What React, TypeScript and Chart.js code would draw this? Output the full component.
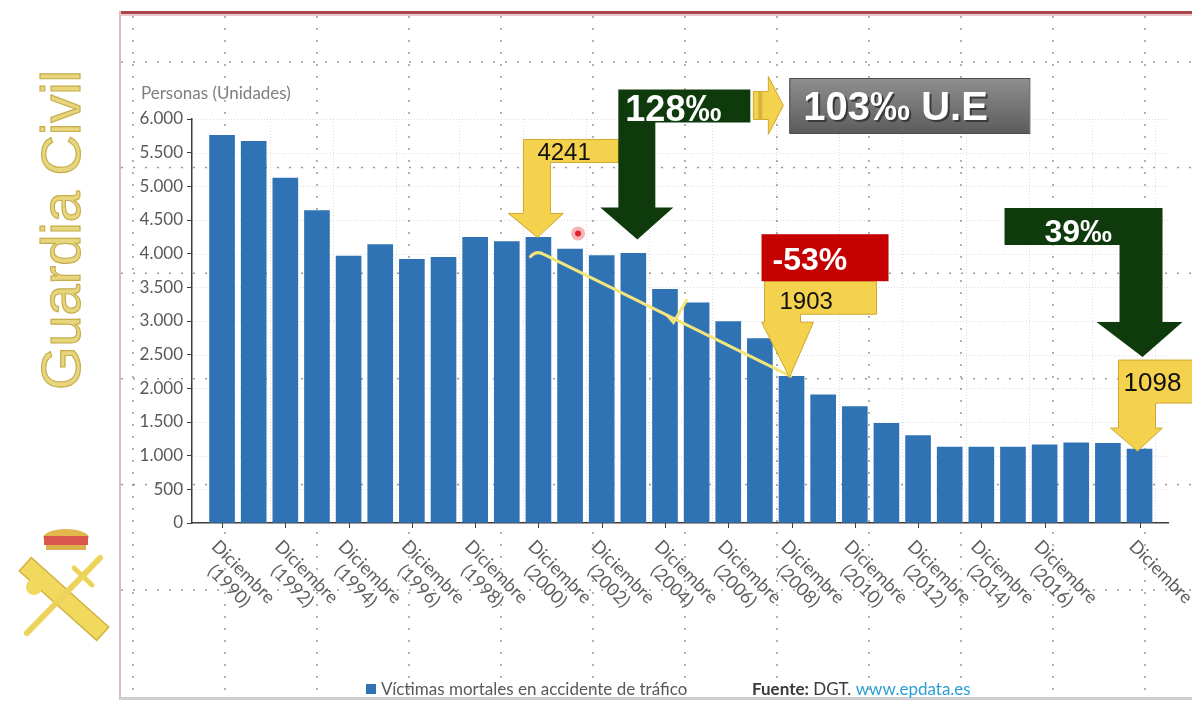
import React, { useEffect, useRef } from 'react';
import { Chart, registerables } from 'chart.js';

Chart.register(...registerables);

// ---------- data ----------
const years = [
  1990, 1991, 1992, 1993, 1994, 1995, 1996, 1997, 1998, 1999,
  2000, 2001, 2002, 2003, 2004, 2005, 2006, 2007, 2008, 2009,
  2010, 2011, 2012, 2013, 2014, 2015, 2016, 2017, 2018, 2019,
];
const victims = [
  5757, 5668, 5122, 4641, 3965, 4134, 3916, 3946, 4243, 4179,
  4241, 4069, 3971, 4005, 3469, 3271, 2993, 2740, 2180, 1903,
  1730, 1480, 1300, 1128, 1128, 1127, 1161, 1191, 1185, 1098,
];
const yTickLabels = ['0', '500', '1.000', '1.500', '2.000', '2.500', '3.000', '3.500', '4.000', '4.500', '5.000', '5.500', '6.000'];
const labelledYears = [1990, 1992, 1994, 1996, 1998, 2000, 2002, 2004, 2006, 2008, 2010, 2012, 2014, 2016];
const lastLabelYear = 2019;
const monthWord = 'Diciembre';
const seriesLabel = 'Víctimas mortales en accidente de tráfico';
const yTitle = 'Personas (Unidades)';
const sourceBold = 'Fuente:';
const sourceName = ' DGT. ';
const sourceUrl = 'www.epdata.es';
const sideTitle = 'Guardia Civil';

// annotations
const peakYear = 2000;
const peakLabel = '4241';
const euroYear = 2003;
const euroLabel = '128‰';
const euLabel = '103‰ U.E';
const dropLabel = '-53%';
const midYear = 2008;
const midLabel = '1903';
const lastYear = 2019;
const lastLabel = '1098';
const lastPctLabel = '39‰';

const BAR = '#2f73b5';
const YEL = '#f5d24e';
const YEL_EDGE = '#cfa92e';
const GREEN = '#0f3a0c';

function poly(ctx: CanvasRenderingContext2D, pts: number[][], fill: string | CanvasGradient, stroke?: string) {
  ctx.beginPath();
  pts.forEach(([x, y], i) => (i ? ctx.lineTo(x, y) : ctx.moveTo(x, y)));
  ctx.closePath();
  ctx.fillStyle = fill;
  ctx.fill();
  if (stroke) {
    ctx.strokeStyle = stroke;
    ctx.lineWidth = 1;
    ctx.stroke();
  }
}

function leftBent(ctx: CanvasRenderingContext2D, tx: number, ty: number, o: any, fill: any, stroke?: string) {
  const { bx0, bx1, by0, by1, sx1, hy, hx0, hx1 } = o;
  poly(ctx, [
    [tx + bx0, ty + by0], [tx + bx1, ty + by0], [tx + bx1, ty + by1], [tx + sx1, ty + by1],
    [tx + sx1, ty + hy], [tx + hx1, ty + hy], [tx, ty], [tx + hx0, ty + hy], [tx + bx0, ty + hy],
  ], fill, stroke);
}
function rightBent(ctx: CanvasRenderingContext2D, tx: number, ty: number, o: any, fill: any, stroke?: string) {
  const { bx0, bx1, by0, by1, sx0, hy, hx0, hx1 } = o;
  poly(ctx, [
    [tx + bx0, ty + by0], [tx + bx1, ty + by0], [tx + bx1, ty + hy], [tx + hx1, ty + hy], [tx, ty],
    [tx + hx0, ty + hy], [tx + sx0, ty + hy], [tx + sx0, ty + by1], [tx + bx0, ty + by1],
  ], fill, stroke);
}

const bgPlugin = {
  id: 'bg',
  beforeDraw(chart: any) {
    const ctx: CanvasRenderingContext2D = chart.ctx;
    const W = chart.width;
    ctx.save();
    ctx.fillStyle = '#ffffff';
    ctx.fillRect(0, 0, W, chart.height);

    // slide dotted grid
    ctx.strokeStyle = 'rgba(70,70,70,0.55)';
    ctx.lineWidth = 1.5;
    ctx.setLineDash([2, 10]);
    for (let x = 133; x < W; x += 92) {
      ctx.beginPath(); ctx.moveTo(x, 16); ctx.lineTo(x, 696); ctx.stroke();
    }
    for (let y = 62; y < 600; y += 105.6) {
      ctx.beginPath(); ctx.moveTo(121, y); ctx.lineTo(W, y); ctx.stroke();
    }
    ctx.setLineDash([]);

    // frame
    ctx.fillStyle = '#a9474d';
    ctx.fillRect(120, 11, W - 120, 3);
    ctx.fillStyle = '#ecc8ca';
    ctx.fillRect(120, 14, W - 120, 2);
    ctx.fillStyle = '#dcbcc0';
    ctx.fillRect(119, 11, 2, 689);
    ctx.fillStyle = '#cfcfcf';
    ctx.fillRect(120, 697, W - 120, 3);

    // side title
    ctx.save();
    ctx.translate(80, 390);
    ctx.rotate(-Math.PI / 2);
    ctx.font = '56px "Liberation Sans"';
    const w = ctx.measureText(sideTitle).width;
    ctx.scale(320 / w, 1);
    ctx.fillStyle = '#e7d67e';
    ctx.strokeStyle = '#c7ae4c';
    ctx.lineWidth = 1.2;
    ctx.textBaseline = 'alphabetic';
    ctx.fillText(sideTitle, 0, 0);
    ctx.strokeText(sideTitle, 0, 0);
    ctx.restore();

    // emblem: crown
    ctx.fillStyle = '#e2b84e';
    ctx.beginPath(); ctx.ellipse(66, 538, 23, 9, 0, Math.PI, 2 * Math.PI); ctx.fill();
    ctx.fillStyle = '#d8564c';
    ctx.fillRect(44, 536, 44, 9);
    ctx.fillStyle = '#d9b24a';
    ctx.fillRect(46, 545, 40, 5);
    // fasces
    ctx.save();
    ctx.translate(64, 599);
    ctx.rotate(Math.PI / 4.3);
    ctx.fillStyle = '#f1d95e';
    ctx.strokeStyle = '#d3b443';
    ctx.fillRect(-52, -9, 104, 18);
    ctx.strokeRect(-52, -9, 104, 18);
    ctx.restore();
    ctx.beginPath(); ctx.arc(34, 587, 8, 0, Math.PI * 2); ctx.fillStyle = '#f1d95e'; ctx.fill();
    // sword
    ctx.strokeStyle = '#eed35a';
    ctx.lineCap = 'round';
    ctx.lineWidth = 6;
    ctx.beginPath(); ctx.moveTo(100, 558); ctx.lineTo(27, 633); ctx.stroke();
    ctx.lineWidth = 5;
    ctx.beginPath(); ctx.moveTo(74, 568); ctx.lineTo(92, 585); ctx.stroke();
    ctx.lineCap = 'butt';
    ctx.restore();
  },
  beforeDatasetsDraw(chart: any) {
    const ctx: CanvasRenderingContext2D = chart.ctx;
    const { left, right, top, bottom } = chart.chartArea;
    const xs = chart.scales.x;
    const ys = chart.scales.y;
    ctx.save();
    ctx.strokeStyle = 'rgba(0,0,0,0.13)';
    ctx.lineWidth = 1;
    ctx.setLineDash([1, 2]);
    for (let i = 1; i < yTickLabels.length; i++) {
      const y = Math.round(ys.getPixelForValue(i * 500)) + 0.5;
      ctx.beginPath(); ctx.moveTo(left, y); ctx.lineTo(right, y); ctx.stroke();
    }
    years.forEach((yr, i) => {
      if (i % 2 === 1) {
        const x = Math.round(xs.getPixelForValue(yr + 0.5)) + 0.5;
        ctx.beginPath(); ctx.moveTo(x, top); ctx.lineTo(x, bottom); ctx.stroke();
      }
    });
    ctx.restore();
  },
};

const annotPlugin = {
  id: 'annot',
  afterDraw(chart: any) {
    const ctx: CanvasRenderingContext2D = chart.ctx;
    const xs = chart.scales.x;
    const ys = chart.scales.y;
    const px = (v: number) => xs.getPixelForValue(v);
    const py = (v: number) => ys.getPixelForValue(v);
    const valOf = (yr: number) => victims[years.indexOf(yr)];
    const bottom = chart.chartArea.bottom;
    ctx.save();

    // y title
    ctx.font = '17px Lato';
    ctx.fillStyle = '#7f7f7f';
    ctx.textBaseline = 'alphabetic';
    ctx.textAlign = 'left';
    ctx.fillText(yTitle, 141, 99);

    // x tick marks and labels
    const drawn = [...labelledYears.map((y) => ({ y, lines: [monthWord, `(${y})`] })), { y: lastLabelYear, lines: [monthWord] }];
    ctx.strokeStyle = '#404040';
    ctx.lineWidth = 1;
    drawn.forEach(({ y }) => {
      const x = Math.round(px(y)) + 0.5;
      ctx.beginPath(); ctx.moveTo(x, bottom); ctx.lineTo(x, bottom + 5); ctx.stroke();
    });
    ctx.font = '18px Lato';
    ctx.fillStyle = '#5f5f5f';
    ctx.textBaseline = 'top';
    drawn.forEach(({ y, lines }) => {
      ctx.save();
      ctx.translate(px(y) - 1, bottom + 14);
      ctx.rotate(Math.PI / 4);
      const w0 = ctx.measureText(lines[0]).width;
      ctx.fillText(lines[0], 0, 0);
      if (lines[1]) {
        const w1 = ctx.measureText(lines[1]).width;
        ctx.fillText(lines[1], (w0 - w1) / 2, 20);
      }
      ctx.restore();
    });

    // legend
    ctx.textBaseline = 'alphabetic';
    ctx.fillStyle = BAR;
    ctx.fillRect(366, 684, 10, 10);
    ctx.font = '17px Lato';
    ctx.fillStyle = '#595959';
    ctx.fillText(seriesLabel, 381, 695);
    let sx = 752;
    ctx.font = 'bold 17px Lato';
    ctx.fillStyle = '#3a3a3a';
    ctx.fillText(sourceBold, sx, 695);
    sx += ctx.measureText(sourceBold).width;
    ctx.font = '17px Lato';
    ctx.fillText(sourceName, sx, 695);
    sx += ctx.measureText(sourceName).width;
    ctx.fillStyle = '#2b9fd4';
    ctx.fillText(sourceUrl, sx, 695);

    // trend line
    const t0x = px(peakYear) - 8, t0y = py(valOf(peakYear) - 241) + 3;
    const t1x = px(midYear) - 1, t1y = py(valOf(midYear));
    ctx.strokeStyle = '#f3e47c';
    ctx.lineWidth = 3;
    ctx.lineCap = 'round';
    ctx.beginPath();
    ctx.moveTo(t0x, t0y);
    ctx.quadraticCurveTo(t0x + 6, t0y - 7, t0x + 14, t0y - 2);
    ctx.lineTo(t1x, t1y);
    ctx.stroke();
    const fx = t0x + 0.55 * (t1x - t0x), fy = t0y + 0.55 * (t1y - t0y);
    ctx.beginPath(); ctx.moveTo(fx - 6, fy - 7); ctx.lineTo(fx, fy); ctx.lineTo(fx + 13, fy - 22); ctx.stroke();
    ctx.lineCap = 'butt';

    // 4241 yellow arrow
    const ax = px(peakYear) - 1, ay = py(valOf(peakYear));
    leftBent(ctx, ax, ay, { bx0: -14, bx1: 81, by0: -98, by1: -75, sx1: 13, hy: -24, hx0: -29, hx1: 26 }, YEL, YEL_EDGE);
    ctx.fillStyle = '#111';
    ctx.font = '24px "Liberation Sans"';
    ctx.fillText(peakLabel, ax + 0, ay - 77);

    // 128 green arrow
    const bx = px(euroYear) + 4, by = py(valOf(peakYear)) + 2;
    leftBent(ctx, bx, by, { bx0: -19, bx1: 113, by0: -150, by1: -117, sx1: 18, hy: -32, hx0: -37, hx1: 36 }, GREEN);
    ctx.fillStyle = '#ffffff';
    ctx.font = 'bold 36px "Liberation Sans"';
    ctx.fillText(euroLabel, bx - 12, by - 118);

    // small yellow arrow to the right
    const cx = bx + 116, cy = by - 134;
    poly(ctx, [[cx, cy - 14], [cx + 15, cy - 14], [cx + 15, cy - 29], [cx + 30, cy], [cx + 15, cy + 29], [cx + 15, cy + 14], [cx, cy + 14]], YEL, YEL_EDGE);
    ctx.fillStyle = '#d9b23a';
    ctx.fillRect(cx + 5, cy - 14, 4, 28);

    // gray EU box
    const g = ctx.createLinearGradient(0, 78, 0, 133);
    g.addColorStop(0, '#8f8f8f');
    g.addColorStop(1, '#5c5c5c');
    ctx.fillStyle = g;
    ctx.fillRect(cx + 36, 78, 240, 55);
    ctx.strokeStyle = '#4d4d4d';
    ctx.lineWidth = 1;
    ctx.strokeRect(cx + 36.5, 78.5, 240, 55);
    ctx.font = 'bold 40px "Liberation Sans"';
    ctx.fillStyle = '#3a3a3a';
    ctx.fillText(euLabel, cx + 52, 122);
    ctx.fillStyle = '#ffffff';
    ctx.fillText(euLabel, cx + 50, 120);

    // 1903 yellow arrow
    const mx = px(midYear) - 2, my = py(valOf(midYear)) + 1;
    leftBent(ctx, mx, my, { bx0: -25, bx1: 87, by0: -96, by1: -63, sx1: 11, hy: -55, hx0: -28, hx1: 24 }, YEL, YEL_EDGE);
    ctx.fillStyle = '#111';
    ctx.font = '24px "Liberation Sans"';
    ctx.fillText(midLabel, mx - 10, my - 68);

    // red -53% box
    ctx.fillStyle = '#c40000';
    ctx.fillRect(mx - 28, my - 143, 127, 47);
    ctx.fillStyle = '#ffffff';
    ctx.font = 'bold 32px "Liberation Sans"';
    ctx.fillText(dropLabel, mx - 17, my - 107);

    // 39 green arrow
    const gx = px(lastYear) + 3, gy = py(valOf(lastYear)) - 92;
    rightBent(ctx, gx, gy, { bx0: -138, bx1: 20, by0: -149, by1: -112, sx0: -23, hy: -35, hx0: -46, hx1: 40 }, GREEN);
    ctx.fillStyle = '#ffffff';
    ctx.font = 'bold 32px "Liberation Sans"';
    ctx.fillText(lastPctLabel, gx - 98, gy - 115);

    // 1098 yellow arrow
    const lx = px(lastYear) - 2, ly = py(valOf(lastYear)) + 2;
    leftBent(ctx, lx, ly, { bx0: -19, bx1: 80, by0: -91, by1: -48, sx1: 18, hy: -23, hx0: -27, hx1: 25 }, YEL, YEL_EDGE);
    ctx.fillStyle = '#111';
    ctx.font = '26px "Liberation Sans"';
    ctx.fillText(lastLabel, lx - 14, ly - 60);

    // pointer dot
    const dx = px(peakYear + 1) + 8, dy = py(valOf(peakYear)) - 4;
    ctx.beginPath(); ctx.arc(dx, dy, 7, 0, Math.PI * 2); ctx.fillStyle = 'rgba(240,120,130,0.55)'; ctx.fill();
    ctx.beginPath(); ctx.arc(dx, dy, 3, 0, Math.PI * 2); ctx.fillStyle = '#e3202c'; ctx.fill();

    ctx.restore();
  },
};

export default function App() {
  const ref = useRef<HTMLCanvasElement>(null);
  useEffect(() => {
    if (!ref.current) return;
    Chart.defaults.font.family = 'Lato';
    const chart = new Chart(ref.current, {
      type: 'bar',
      data: {
        labels: years,
        datasets: [
          {
            label: seriesLabel,
            data: victims,
            backgroundColor: BAR,
            barThickness: 25,
          },
        ],
      },
      options: {
        animation: false,
        responsive: false,
        devicePixelRatio: 1,
        layout: { padding: { left: 0, top: 119, right: 24, bottom: 0 } },
        plugins: { legend: { display: false }, tooltip: { enabled: false } },
        scales: {
          x: {
            type: 'linear',
            bounds: 'data',
            offset: false,
            min: 1989.05,
            max: 2019.9,
            ticks: { display: false },
            grid: { display: false, offset: false },
            border: { display: true, color: '#3c3c3c', width: 1.5 },
            afterFit: (s: any) => { s.height = 179; },
          },
          y: {
            min: 0,
            max: 6000,
            ticks: {
              stepSize: 500,
              autoSkip: false,
              padding: 4,
              color: '#595959',
              font: { size: 17, family: 'Lato' },
              callback: (v: any) => yTickLabels[Math.round(Number(v) / 500)],
            },
            grid: { drawOnChartArea: false, drawTicks: true, tickLength: 5, color: '#3c3c3c' },
            border: { display: true, color: '#3c3c3c', width: 1.5 },
            afterFit: (s: any) => { s.width = 192; },
          },
        },
      } as any,
      plugins: [bgPlugin, annotPlugin],
    });
    return () => chart.destroy();
  }, []);
  return (
    <div style={{ position: 'fixed', left: 0, top: 0, width: 1192, height: 702, background: '#fff' }}>
      <canvas ref={ref} width={1192} height={702} style={{ width: 1192, height: 702, display: 'block' }} />
    </div>
  );
}
